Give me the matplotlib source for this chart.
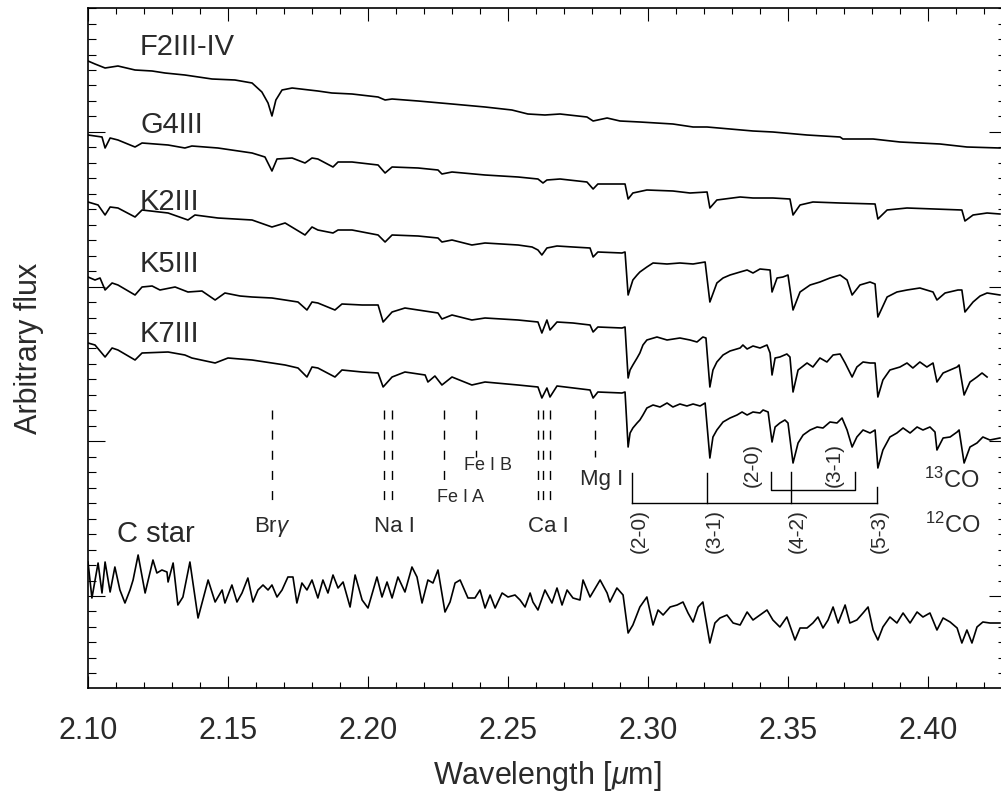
import matplotlib
matplotlib.use('Agg')
import matplotlib.pyplot as plt
import numpy as np
from matplotlib.ticker import MultipleLocator

plt.rcParams['font.family'] = ['Liberation Sans', 'DejaVu Sans']
plt.rcParams['mathtext.fontset'] = 'custom'
plt.rcParams['mathtext.rm'] = 'Liberation Sans'
plt.rcParams['mathtext.it'] = 'Liberation Sans:italic'

# spectra: (wavelength [um], arbitrary flux incl. vertical offset)
f2 = [(2.1000, 639), (2.1025, 636), (2.1061, 632), (2.1107, 634), (2.1168, 630), (2.1229, 629),
      (2.1275, 627), (2.1346, 625), (2.1443, 621), (2.1525, 620), (2.1586, 617), (2.1621, 608),
      (2.1643, 597), (2.1657, 584), (2.1671, 600), (2.1693, 610), (2.1729, 612), (2.1821, 609),
      (2.1871, 607), (2.1943, 606), (2.2036, 603), (2.2061, 600), (2.2086, 601), (2.2179, 599),
      (2.2300, 596), (2.2418, 593), (2.2514, 590), (2.2571, 586), (2.2632, 585), (2.2686, 586),
      (2.2782, 583), (2.2804, 579), (2.2854, 582), (2.2900, 579), (2.2971, 578), (2.3089, 576),
      (2.3161, 573), (2.3211, 573), (2.3375, 569), (2.3446, 568), (2.3568, 565), (2.3686, 563),
      (2.3696, 561), (2.3804, 561), (2.3900, 558), (2.4043, 556), (2.4139, 553), (2.4257, 552)]

g4 = [(2.1000, 565), (2.1050, 563), (2.1061, 552), (2.1079, 562), (2.1107, 560), (2.1168, 553),
      (2.1193, 557), (2.1286, 555), (2.1346, 552), (2.1371, 554), (2.1464, 552), (2.1586, 547),
      (2.1632, 543), (2.1657, 529), (2.1675, 541), (2.1729, 542), (2.1775, 537), (2.1800, 542),
      (2.1821, 541), (2.1875, 533), (2.1893, 538), (2.1943, 538), (2.2036, 535), (2.2061, 527),
      (2.2086, 533), (2.2179, 532), (2.2250, 530), (2.2264, 526), (2.2300, 528), (2.2418, 525),
      (2.2536, 523), (2.2607, 521), (2.2625, 517), (2.2639, 520), (2.2686, 521), (2.2782, 518),
      (2.2804, 511), (2.2821, 516), (2.2918, 516), (2.2929, 501), (2.2946, 507), (2.2996, 510),
      (2.3089, 509), (2.3150, 507), (2.3211, 508), (2.3221, 492), (2.3246, 500), (2.3329, 503),
      (2.3375, 502), (2.3446, 502), (2.3507, 501), (2.3518, 485), (2.3543, 495), (2.3589, 498),
      (2.3686, 497), (2.3811, 496), (2.3821, 481), (2.3854, 490), (2.3925, 492), (2.4121, 490),
      (2.4132, 479), (2.4161, 485), (2.4211, 487), (2.4257, 486)]

k2 = [(2.1000, 498), (2.1036, 495), (2.1061, 485), (2.1079, 493), (2.1107, 492), (2.1168, 483),
      (2.1193, 490), (2.1286, 487), (2.1357, 480), (2.1382, 485), (2.1464, 482), (2.1586, 480),
      (2.1657, 473), (2.1704, 477), (2.1775, 465), (2.1800, 473), (2.1821, 470), (2.1875, 467),
      (2.1893, 470), (2.1943, 470), (2.2036, 465), (2.2061, 458), (2.2086, 465), (2.2179, 464),
      (2.2250, 462), (2.2264, 458), (2.2300, 460), (2.2371, 455), (2.2418, 457), (2.2536, 455),
      (2.2586, 453), (2.2607, 450), (2.2621, 445), (2.2639, 452), (2.2675, 454), (2.2732, 453),
      (2.2793, 452), (2.2804, 443), (2.2821, 448), (2.2907, 447), (2.2918, 448), (2.2929, 405),
      (2.2946, 420), (2.2961, 425), (2.2971, 428), (2.2996, 433), (2.3018, 437), (2.3068, 436),
      (2.3114, 437), (2.3161, 436), (2.3204, 438), (2.3221, 398), (2.3246, 417), (2.3268, 422),
      (2.3293, 425), (2.3329, 428), (2.3354, 430), (2.3375, 427), (2.3400, 431), (2.3436, 430),
      (2.3443, 408), (2.3461, 422), (2.3482, 423), (2.3500, 425), (2.3518, 390), (2.3543, 408),
      (2.3579, 415), (2.3614, 418), (2.3650, 422), (2.3686, 425), (2.3711, 420), (2.3729, 405),
      (2.3757, 415), (2.3793, 418), (2.3811, 416), (2.3821, 383), (2.3854, 403), (2.3889, 408),
      (2.3925, 410), (2.3971, 412), (2.4018, 408), (2.4032, 400), (2.4061, 407), (2.4107, 410),
      (2.4121, 410), (2.4132, 388), (2.4161, 398), (2.4186, 404), (2.4211, 407), (2.4257, 405)]

k5 = [(2.1000, 423), (2.1025, 420), (2.1043, 422), (2.1061, 410), (2.1086, 417), (2.1107, 415),
      (2.1168, 405), (2.1193, 413), (2.1229, 414), (2.1257, 410), (2.1311, 413), (2.1357, 408),
      (2.1407, 409), (2.1454, 400), (2.1489, 407), (2.1543, 404), (2.1586, 403), (2.1657, 402),
      (2.1704, 400), (2.1750, 398), (2.1782, 390), (2.1800, 398), (2.1821, 397), (2.1882, 390),
      (2.1907, 396), (2.1979, 395), (2.2036, 395), (2.2054, 378), (2.2086, 388), (2.2132, 392),
      (2.2179, 390), (2.2250, 387), (2.2264, 381), (2.2300, 385), (2.2371, 380), (2.2418, 382),
      (2.2536, 380), (2.2607, 378), (2.2621, 367), (2.2639, 380), (2.2650, 370), (2.2675, 378),
      (2.2732, 377), (2.2793, 375), (2.2804, 368), (2.2821, 373), (2.2907, 372), (2.2918, 373),
      (2.2929, 322), (2.2936, 330), (2.2946, 335), (2.2961, 342), (2.2971, 347), (2.2982, 355),
      (2.2996, 360), (2.3032, 363), (2.3068, 360), (2.3114, 362), (2.3150, 360), (2.3175, 358),
      (2.3196, 363), (2.3207, 362), (2.3221, 313), (2.3232, 330), (2.3246, 338), (2.3268, 345),
      (2.3293, 349), (2.3329, 352), (2.3339, 355), (2.3354, 351), (2.3375, 354), (2.3400, 352),
      (2.3425, 355), (2.3436, 347), (2.3443, 325), (2.3454, 342), (2.3471, 343), (2.3496, 346),
      (2.3507, 343), (2.3518, 308), (2.3536, 330), (2.3568, 337), (2.3589, 333), (2.3614, 342),
      (2.3639, 338), (2.3661, 345), (2.3686, 346), (2.3704, 337), (2.3729, 323), (2.3746, 333),
      (2.3768, 338), (2.3793, 337), (2.3811, 337), (2.3821, 303), (2.3839, 320), (2.3864, 330),
      (2.3900, 333), (2.3925, 337), (2.3946, 332), (2.3971, 338), (2.3996, 333), (2.4018, 337),
      (2.4032, 318), (2.4054, 327), (2.4079, 330), (2.4104, 333), (2.4111, 335), (2.4129, 305),
      (2.4150, 318), (2.4175, 323), (2.4193, 327), (2.4211, 323)]

k7 = [(2.1000, 357), (2.1025, 355), (2.1061, 343), (2.1086, 352), (2.1107, 350), (2.1168, 340),
      (2.1193, 347), (2.1286, 348), (2.1346, 345), (2.1371, 342), (2.1454, 337), (2.1500, 342),
      (2.1586, 340), (2.1657, 337), (2.1704, 335), (2.1750, 332), (2.1782, 323), (2.1800, 333),
      (2.1821, 332), (2.1882, 323), (2.1907, 330), (2.1979, 328), (2.2036, 327), (2.2054, 313),
      (2.2086, 323), (2.2132, 328), (2.2204, 325), (2.2214, 318), (2.2239, 324), (2.2264, 315),
      (2.2300, 323), (2.2371, 315), (2.2418, 318), (2.2536, 315), (2.2607, 313), (2.2621, 302),
      (2.2639, 312), (2.2650, 303), (2.2675, 314), (2.2793, 310), (2.2804, 302), (2.2821, 308),
      (2.2907, 307), (2.2918, 308), (2.2929, 253), (2.2936, 267), (2.2946, 272), (2.2961, 277),
      (2.2971, 280), (2.2982, 285), (2.2996, 292), (2.3018, 295), (2.3043, 293), (2.3068, 297),
      (2.3089, 293), (2.3114, 296), (2.3139, 294), (2.3161, 296), (2.3186, 294), (2.3204, 297),
      (2.3221, 242), (2.3232, 263), (2.3246, 270), (2.3268, 278), (2.3293, 282), (2.3318, 285),
      (2.3336, 288), (2.3354, 285), (2.3375, 288), (2.3400, 287), (2.3411, 290), (2.3429, 288),
      (2.3443, 258), (2.3454, 273), (2.3471, 277), (2.3489, 280), (2.3500, 277), (2.3518, 237),
      (2.3536, 257), (2.3554, 265), (2.3579, 270), (2.3604, 273), (2.3625, 272), (2.3650, 278),
      (2.3675, 277), (2.3693, 282), (2.3711, 270), (2.3729, 253), (2.3746, 263), (2.3768, 270),
      (2.3793, 267), (2.3811, 270), (2.3821, 232), (2.3839, 250), (2.3864, 263), (2.3889, 267),
      (2.3911, 272), (2.3936, 267), (2.3961, 273), (2.3982, 270), (2.4007, 273), (2.4025, 268),
      (2.4032, 250), (2.4054, 262), (2.4079, 263), (2.4104, 268), (2.4111, 270), (2.4129, 237),
      (2.4150, 253), (2.4175, 257), (2.4196, 263), (2.4221, 260), (2.4257, 262)]

cstar = [(2.1000, 138), (2.1014, 102), (2.1036, 137), (2.1050, 107), (2.1061, 138), (2.1079, 108),
         (2.1096, 133), (2.1114, 110), (2.1132, 97), (2.1150, 110), (2.1161, 120), (2.1179, 145),
         (2.1204, 107), (2.1232, 140), (2.1246, 127), (2.1264, 130), (2.1282, 128), (2.1286, 118),
         (2.1304, 137), (2.1321, 95), (2.1339, 103), (2.1364, 138), (2.1393, 82), (2.1429, 120),
         (2.1454, 98), (2.1479, 110), (2.1489, 97), (2.1514, 115), (2.1532, 98), (2.1550, 107),
         (2.1571, 122), (2.1589, 98), (2.1607, 110), (2.1625, 115), (2.1643, 110), (2.1657, 115),
         (2.1675, 103), (2.1693, 110), (2.1714, 123), (2.1732, 123), (2.1746, 97), (2.1764, 117),
         (2.1782, 110), (2.1800, 120), (2.1821, 102), (2.1839, 120), (2.1857, 107), (2.1875, 125),
         (2.1893, 112), (2.1911, 118), (2.1936, 93), (2.1954, 125), (2.1979, 100), (2.2000, 92),
         (2.2032, 123), (2.2050, 103), (2.2068, 118), (2.2086, 102), (2.2107, 123), (2.2132, 108),
         (2.2157, 133), (2.2175, 123), (2.2193, 97), (2.2214, 120), (2.2232, 117), (2.2250, 130),
         (2.2275, 88), (2.2293, 98), (2.2311, 117), (2.2329, 120), (2.2357, 102), (2.2382, 102),
         (2.2400, 110), (2.2418, 92), (2.2436, 105), (2.2454, 92), (2.2479, 107), (2.2500, 103),
         (2.2525, 105), (2.2543, 100), (2.2561, 93), (2.2579, 107), (2.2589, 98), (2.2607, 90),
         (2.2632, 110), (2.2657, 97), (2.2675, 112), (2.2693, 95), (2.2711, 110), (2.2732, 102),
         (2.2757, 100), (2.2768, 120), (2.2793, 103), (2.2829, 120), (2.2854, 107), (2.2864, 98),
         (2.2889, 112), (2.2911, 105), (2.2929, 67), (2.2946, 75), (2.2971, 93), (2.2996, 103),
         (2.3018, 75), (2.3036, 90), (2.3054, 85), (2.3079, 93), (2.3104, 95), (2.3125, 98),
         (2.3143, 87), (2.3161, 78), (2.3179, 93), (2.3196, 98), (2.3221, 57), (2.3239, 77),
         (2.3257, 82), (2.3282, 85), (2.3304, 77), (2.3329, 75), (2.3354, 88), (2.3375, 80),
         (2.3400, 85), (2.3425, 90), (2.3446, 80), (2.3471, 73), (2.3496, 83), (2.3525, 60),
         (2.3543, 72), (2.3568, 72), (2.3589, 77), (2.3607, 83), (2.3625, 72), (2.3643, 80),
         (2.3661, 93), (2.3679, 77), (2.3704, 95), (2.3721, 77), (2.3746, 80), (2.3768, 87),
         (2.3786, 93), (2.3804, 70), (2.3821, 60), (2.3839, 73), (2.3864, 83), (2.3889, 77),
         (2.3911, 87), (2.3936, 77), (2.3961, 88), (2.3982, 83), (2.4007, 87), (2.4032, 70),
         (2.4054, 82), (2.4079, 78), (2.4104, 72), (2.4121, 57), (2.4139, 70), (2.4157, 57),
         (2.4175, 73), (2.4196, 78), (2.4221, 77), (2.4257, 77)]

spectra = [f2, g4, k2, k5, k7, cstar]
star_names = ['F2III-IV', 'G4III', 'K2III', 'K5III', 'K7III', 'C star']

# atomic line identifications (wavelengths in um)
atomic_names = ['Br$\\gamma$', 'Na I', 'Fe I A', 'Fe I B', 'Ca I', 'Mg I']
atomic_waves = [[2.1657], [2.2057, 2.2086], [2.2271], [2.2386], [2.2607, 2.2625, 2.2650], [2.2811]]

# CO bandheads
co12_names = ['(2-0)', '(3-1)', '(4-2)', '(5-3)']
co12_waves = [2.2943, 2.3211, 2.3511, 2.3818]
co13_names = ['(2-0)', '(3-1)']
co13_waves = [2.3439, 2.3739]

TXT = '#2a2a2a'

fig = plt.figure(figsize=(10.01, 7.96), dpi=100)
ax = fig.add_axes([88 / 1001, 108 / 796, 918 / 1001, 680 / 796])

for spec in spectra:
    wl, fl = np.array(spec).T
    ax.plot(wl, fl, color='black', lw=1.2, solid_joinstyle='round')

# star labels
label_pos = [(2.1186, 645), (2.1186, 567), (2.1186, 490), (2.1186, 428), (2.1186, 358), (2.1104, 158)]
for name, (x, y) in zip(star_names, label_pos):
    ax.text(x, y, name, fontsize=21, color=TXT, ha='left', va='baseline')

# dashed line markers
dash_bottom = [200, 200, 220, 243, 200, 243]
for waves, yb in zip(atomic_waves, dash_bottom):
    for w in waves:
        ax.plot([w, w], [290, yb], color='black', lw=1.0, ls=(0, (6.5, 8)))

atomic_lab = [(2.1657, 173, 16), (2.2096, 173, 16), (2.2329, 203, 13),
              (2.2429, 234, 13), (2.2643, 173, 16), (2.2836, 221, 16)]
for name, (x, y, fs) in zip(atomic_names, atomic_lab):
    ax.text(x, y, name, fontsize=fs, color=TXT, ha='center', va='center')

# 12CO bracket
tops12 = [227, 227, 228, 213]
for w, t in zip(co12_waves, tops12):
    ax.plot([w, w], [t, 197], color='black', lw=1.0)
ax.plot([co12_waves[0], co12_waves[-1]], [197, 197], color='black', lw=1.0)
# 13CO bracket
ax.plot([co13_waves[0], co13_waves[0], co13_waves[1], co13_waves[1]], [228, 210, 210, 228],
        color='black', lw=1.0)

co12_lab_x = [2.2968, 2.3236, 2.3532, 2.3825]
for name, x in zip(co12_names, co12_lab_x):
    ax.text(x, 169, name, fontsize=15, color=TXT, rotation=90, ha='center', va='center')
co13_lab_x = [2.3371, 2.3664]
for name, x in zip(co13_names, co13_lab_x):
    ax.text(x, 235, name, fontsize=15, color=TXT, rotation=90, ha='center', va='center')

ax.text(2.3985, 212, '$^{13}$CO', fontsize=17, color=TXT, ha='left', va='baseline')
ax.text(2.3990, 167, '$^{12}$CO', fontsize=17, color=TXT, ha='left', va='baseline')

ax.set_xlim(2.10, 2.42786)
ax.set_ylim(12, 692)
ax.xaxis.set_major_locator(MultipleLocator(0.05))
ax.xaxis.set_minor_locator(MultipleLocator(0.01))
ax.yaxis.set_major_locator(MultipleLocator(154.7, offset=104))
ax.yaxis.set_minor_locator(MultipleLocator(15.47, offset=104))
ax.xaxis.set_major_formatter(plt.FuncFormatter(lambda v, p: '%.2f' % v))
ax.set_yticklabels([])

ax.tick_params(which='both', direction='in', top=True, right=True, width=0.8, colors='black')
ax.tick_params(axis='x', which='major', length=9, pad=20, labelsize=22, labelcolor=TXT)
ax.tick_params(axis='x', which='minor', length=4)
ax.tick_params(axis='y', which='major', length=12, labelleft=False)
ax.tick_params(axis='y', which='minor', length=6)
for s in ax.spines.values():
    s.set_linewidth(1.2)

ax.set_xlabel('Wavelength [$\\mu$m]', fontsize=22, color=TXT)
ax.xaxis.set_label_coords(0.5, -0.105)
ax.set_ylabel('Arbitrary flux', fontsize=22, color=TXT)
ax.yaxis.set_label_coords(-0.048, 0.5)

fig.savefig('out.png', dpi=100)
